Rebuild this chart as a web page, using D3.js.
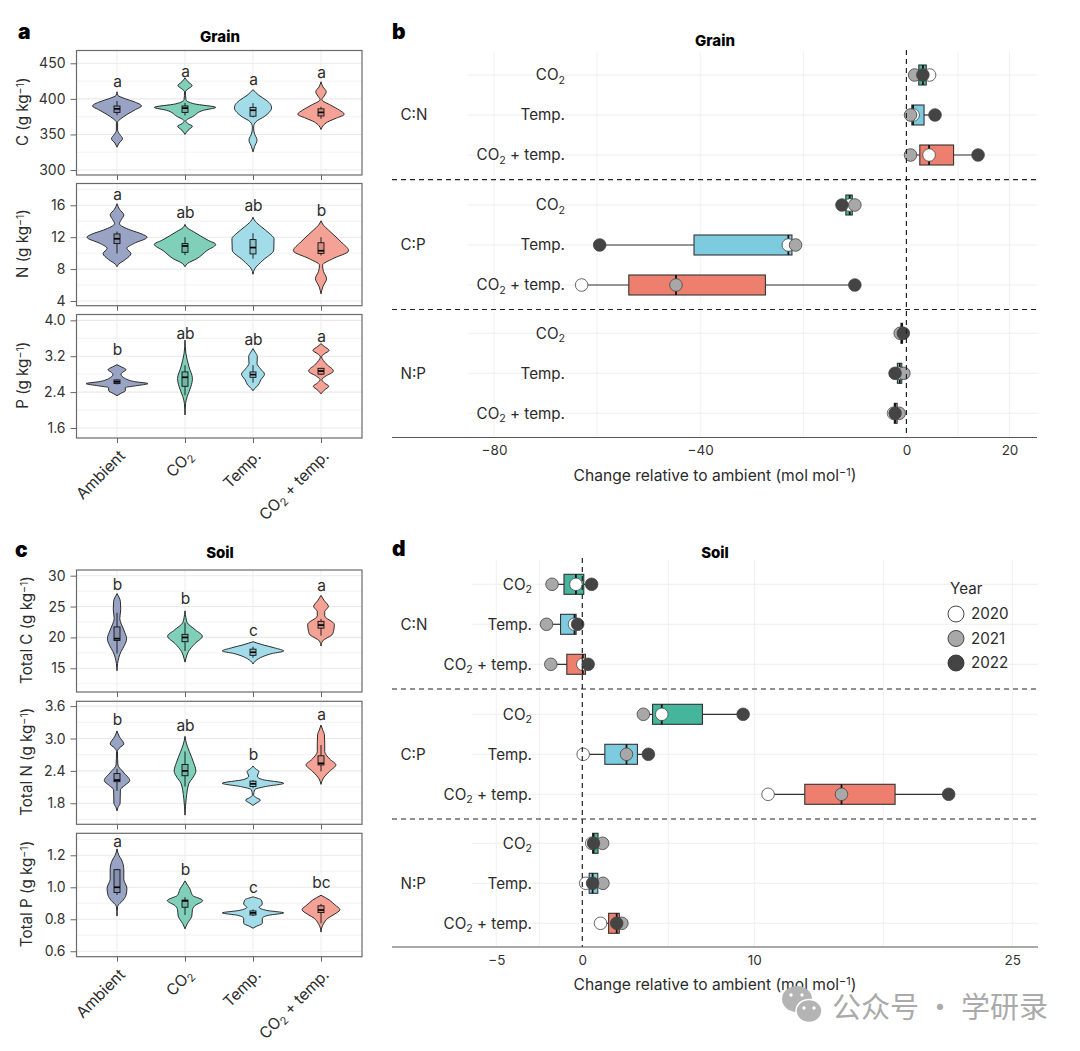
<!DOCTYPE html>
<html>
<head>
<meta charset="utf-8">
<script src="https://cdnjs.cloudflare.com/ajax/libs/d3/7.8.5/d3.min.js"></script>
<style>
  html, body { margin: 0; padding: 0; background: #fff; }
  text { font-family: Inter, "Noto Sans", sans-serif; fill: #2b2b2b; }
  .tick text { font-size: 14px; fill: #333; }
  .axis-label { font-size: 15.2px; }
  .x-label { font-size: 15.6px; }
  .panel-letter { font-size: 21px; font-weight: 900; fill: #000; }
  .panel-title { font-size: 15px; font-weight: 800; fill: #000; }
  .sig { font-size: 15.5px; }
  .row-label { font-size: 15.2px; }
</style>
</head>
<body>
<svg id="chart" width="1080" height="1051"></svg>
<script>
const treatments = ['Ambient', 'CO_2', 'Temp.', 'CO_2 + temp.'];
const rowLabels = ['CO_2', 'Temp.', 'CO_2 + temp.'];
const ratioLabels = ['C:N', 'C:P', 'N:P'];
const years = ['2020', '2021', '2022'];

// violin outlines, [value, relative density]
const grainC = [
  [[410,0],[405,.03],[400,.28],[396,.55],[390,.79],[385,.6],[378,.32],[372,.12],[367,.02],[356,.02],[350,.09],[344,.18],[338,.07],[332,0]],
  [[429.5,0],[424,.1],[418.7,.23],[414,.1],[410,.015],[399,.03],[393,.3],[388,.99],[384,.6],[375.6,.27],[369,.03],[365,.1],[361.6,.24],[356,.1],[350,0]],
  [[413,0],[405,.19],[398,.43],[392,.57],[387,.6],[381,.52],[375.6,.38],[367.7,.09],[360.6,.02],[352,.04],[342,.13],[333,.05],[325.5,0]],
  [[424,0],[417,.06],[410,.17],[404,.1],[399,.03],[391,.32],[384,.6],[378.4,.75],[373,.5],[367.7,.22],[362,.06],[357,0]]
];
const grainN = [
  [[16.2,0],[15.5,.08],[14.8,.22],[14.2,.14],[13.7,.08],[12.9,.43],[12.4,.8],[12,.97],[11.2,.54],[10.6,.32],[9.95,.45],[9.2,.27],[8.6,.05],[8.3,0]],
  [[13.6,0],[13.2,.06],[12.7,.27],[11.6,.75],[11.1,.99],[10.3,.7],[9.3,.38],[8.7,.08],[8.3,0]],
  [[14.5,0],[14,.07],[13.3,.27],[12.5,.52],[11.8,.68],[10.4,.67],[9.1,.32],[8,.05],[7.35,0]],
  [[14.05,0],[13.5,.08],[12.9,.24],[11.4,.65],[10.3,.89],[9.3,.38],[8.5,.05],[7.7,.08],[6.8,.18],[5.8,.06],[4.9,0]]
];
const grainP = [
  [[3.01,0],[2.96,.15],[2.9,.29],[2.85,.2],[2.8,.13],[2.7,.27],[2.63,.6],[2.59,1],[2.54,.6],[2.5,.27],[2.43,.27],[2.37,.12],[2.32,0]],
  [[3.56,0],[3.26,.03],[2.96,.13],[2.7,.24],[2.52,.19],[2.3,.07],[2.15,.02],[1.89,0]],
  [[3.37,0],[3.28,.08],[3.19,.14],[3.04,.13],[2.92,.24],[2.8,.37],[2.68,.26],[2.55,.16],[2.47,.04],[2.43,0]],
  [[3.48,0],[3.42,.1],[3.33,.26],[3.25,.1],[3.19,.02],[3.02,.18],[2.87,.4],[2.75,.14],[2.68,.03],[2.6,.12],[2.53,.25],[2.44,.1],[2.36,0]]
];
const soilC = [
  [[27.1,0],[25.8,.11],[24.5,.12],[23.1,.09],[21.2,.22],[19.8,.31],[18.7,.24],[17.7,.13],[15.8,.02],[14.6,0]],
  [[24.3,0],[23.2,.03],[22.4,.07],[21.2,.34],[20.2,.56],[19,.32],[17.7,.11],[16.6,.03],[16,0]],
  [[19.3,0],[18.8,.32],[18.3,.7],[17.8,.99],[17.4,.62],[16.9,.32],[16.2,.08],[15.7,0]],
  [[26.8,0],[26,.1],[25,.24],[24.2,.12],[23.5,.12],[22.1,.43],[20.6,.38],[19.4,.05],[18.6,0]]
];
const soilN = [
  [[3.14,0],[3.03,.08],[2.9,.22],[2.82,.07],[2.76,.015],[2.51,.03],[2.38,.2],[2.22,.41],[2.13,.25],[2.05,.11],[1.8,.1],[1.72,.03],[1.66,0]],
  [[3.04,0],[2.9,.05],[2.76,.14],[2.55,.28],[2.4,.35],[2.28,.26],[2.17,.13],[1.89,.04],[1.58,0]],
  [[2.49,0],[2.44,.08],[2.39,.19],[2.3,.14],[2.24,.3],[2.17,.99],[2.11,.4],[2.05,.05],[1.95,.02],[1.9,.12],[1.86,.24],[1.8,.1],[1.76,0]],
  [[3.25,0],[3.15,.06],[3.07,.11],[2.9,.12],[2.76,.12],[2.62,.28],[2.51,.48],[2.39,.27],[2.25,.06],[2.15,0]]
];
const soilP = [
  [[1.24,0],[1.2,.06],[1.17,.15],[1.11,.22],[1.05,.22],[.994,.32],[.95,.29],[.92,.2],[.88,.02],[.82,0]],
  [[1.04,0],[1.02,.06],[.99,.16],[.95,.24],[.917,.57],[.885,.32],[.86,.24],[.82,.22],[.775,.08],[.74,0]],
  [[.94,0],[.92,.27],[.895,.3],[.875,.2],[.855,.45],[.84,.99],[.825,.5],[.806,.3],[.775,.3],[.755,.1],[.744,0]],
  [[.95,0],[.92,.27],[.89,.45],[.86,.61],[.83,.42],[.806,.22],[.775,.09],[.745,.02],[.72,0]]
];

// violin inner boxes, [low, q1, median, q3, high]
const grainCBox = [[377,381,386,390,397],[376.6,381,387,390,394.5],[374,375.6,384,388,394],[372,376,381,386,389]];
const grainNBox = [[9.95,11.2,11.8,12.4,12.7],[9.75,10.1,10.9,11.2,12],[9.3,9.9,10.7,11.7,12.5],[9.7,9.95,10.3,11.3,12]];
const grainPBox = [[2.57,2.59,2.63,2.67,2.69],[2.33,2.53,2.73,2.85,3],[2.61,2.73,2.79,2.85,3],[2.78,2.8,2.87,2.93,2.94]];
const soilCBox = [[17.4,19.5,19.8,21.7,24],[17.8,19.3,20,20.5,22.4],[16.7,17.1,17.6,18.1,18.5],[20.3,21.5,22,22.6,23]];
const soilNBox = [[2.03,2.2,2.23,2.35,2.44],[2.11,2.31,2.4,2.52,2.76],[2.08,2.11,2.16,2.21,2.23],[2.39,2.51,2.54,2.68,2.88]];
const soilPBox = [[.952,.967,1,1.11,1.115],[.827,.875,.915,.92,.938],[.82,.827,.84,.852,.862],[.775,.842,.858,.884,.896]];

// significance letters and the value they sit at
const grainCSig = ['a','a','a','a'], grainCSigAt = [424,439,427,437];
const grainNSig = ['a','ab','ab','b'], grainNSigAt = [17.3,15.15,16,15.4];
const grainPSig = ['b','ab','ab','a'], grainPSigAt = [3.36,3.7,3.57,3.64];
const soilCSig = ['b','b','c','a'], soilCSigAt = [28.6,26.3,21.2,28.4];
const soilNSig = ['b','ab','b','a'], soilNSigAt = [3.36,3.24,2.7,3.44];
const soilPSig = ['a','b','c','bc'], soilPSigAt = [1.285,1.11,1,1.03];

// yearly change per treatment row, [2020, 2021, 2022]
const grainCN = [[4.5,1.6,3.2],[1.3,.8,5.55],[4.4,.8,13.9]];
const grainCP = [[-11,-10,-12.5],[-22.9,-21.5,-59.5],[-63,-44.7,-10]];
const grainNP = [[-.9,-1.2,-.6],[-1.3,-.5,-2.2],[-2.5,-1.4,-2.2]];
const soilCN = [[-.37,-1.76,.54],[-.45,-2.08,-.27],[.03,-1.83,.34]];
const soilCP = [[4.62,3.55,9.35],[.05,2.57,3.84],[10.8,15.07,21.3]];
const soilNP = [[.55,1.18,.65],[.2,1.2,.6],[1.06,2.3,2]];

const violinColors = ['#99a4c4', '#7fcfb9', '#a2dce9', '#f3a295'];
const boxColors = ['#45b59c', '#7ccbdf', '#ee7f6e'];
const yearColors = ['#ffffff', '#a8a8a8', '#444444'];

const svg = d3.select('#chart');

// turns CO_2 and ^-1 into sub/superscript tspans
function richText(sel, str) {
  sel.each(function() {
    const el = d3.select(this).text(null);
    let shift = 0;
    str.split(/(_2|\^-1)/).filter(s => s.length).forEach(part => {
      const t = el.append('tspan');
      if (part == '_2') {
        t.text('2').attr('font-size', '70%').attr('dy', '0.3em'); shift = -0.21;
      } else if (part == '^-1') {
        t.text('\u22121').attr('font-size', '70%').attr('dy', '-0.42em'); shift = 0.29;
      } else {
        t.text(part);
        if (shift) { t.attr('dy', shift + 'em'); shift = 0; }
      }
    });
  });
}

function drawViolinFacet(f) {
  const x = d3.scalePoint().domain(treatments).range([117, 321]);
  const y = d3.scaleLinear().domain(f.domain).range([f.bottom, f.top]);
  const w = d3.scaleLinear().domain([0, 1]).range([0, 31]);
  const g = svg.append('g');

  // grid, minor then major
  const step = f.ticks[1] - f.ticks[0];
  const minor = d3.range(-1, f.ticks.length).map(i => f.ticks[0] + (i + 0.5) * step)
    .filter(v => v > f.domain[0] && v < f.domain[1]);
  g.selectAll('.minor').data(minor).enter().append('line')
    .attr('x1', 77).attr('x2', 362).attr('y1', y).attr('y2', y)
    .attr('stroke', '#f2f2f2').attr('stroke-width', 1);
  g.selectAll('.major').data(f.ticks).enter().append('line')
    .attr('x1', 77).attr('x2', 362).attr('y1', y).attr('y2', y)
    .attr('stroke', '#e9e9e9').attr('stroke-width', 1.1);
  g.selectAll('.vert').data(treatments).enter().append('line')
    .attr('x1', d => x(d)).attr('x2', d => x(d)).attr('y1', f.top).attr('y2', f.bottom)
    .attr('stroke', '#ececec').attr('stroke-width', 1);

  // violins
  const area = d3.area()
    .y(d => y(d[0]))
    .x0(d => -w(d[1]))
    .x1(d => w(d[1]))
    .curve(d3.curveMonotoneY);

  treatments.forEach((t, i) => {
    const v = g.append('g').attr('transform', `translate(${x(t)},0)`);
    v.append('path').attr('d', area(f.violins[i]))
      .attr('fill', violinColors[i]).attr('stroke', '#1a1a1a').attr('stroke-width', 0.9);
    const b = f.boxes[i];
    v.append('line').attr('y1', y(b[0])).attr('y2', y(b[4]))
      .attr('stroke', '#111').attr('stroke-width', 0.9);
    v.append('rect').attr('x', -3).attr('width', 6)
      .attr('y', y(b[3])).attr('height', y(b[1]) - y(b[3]))
      .attr('fill', d3.color(violinColors[i]).darker(0.35)).attr('stroke', '#111').attr('stroke-width', 0.9);
    v.append('line').attr('x1', -3).attr('x2', 3).attr('y1', y(b[2])).attr('y2', y(b[2]))
      .attr('stroke', '#000').attr('stroke-width', 1.7);
    g.append('text').attr('class', 'sig').attr('text-anchor', 'middle')
      .attr('x', x(t) + 0.5).attr('y', y(f.sigAt[i])).attr('dy', '0.36em').text(f.sig[i]);
  });

  // frame and axes
  g.append('rect').attr('x', 76.5).attr('y', f.top).attr('width', 285.5).attr('height', f.bottom - f.top)
    .attr('fill', 'none').attr('stroke', '#6a6a6a').attr('stroke-width', 1.2);

  const yAxis = g.append('g').attr('transform', 'translate(76.5,0)')
    .call(d3.axisLeft(y).tickValues(f.ticks).tickSize(6).tickPadding(5).tickFormat(f.format));
  yAxis.select('.domain').remove();
  yAxis.selectAll('line').attr('stroke', '#666');

  const xAxis = g.append('g').attr('transform', `translate(0,${f.bottom})`)
    .call(d3.axisBottom(x).tickSize(5).tickFormat(''));
  xAxis.select('.domain').remove();
  xAxis.selectAll('line').attr('stroke', '#666');

  g.append('text').attr('class', 'axis-label').attr('text-anchor', 'middle')
    .attr('transform', `translate(${f.labelX},${(f.top + f.bottom) / 2 - 1}) rotate(-90)`)
    .call(richText, f.label);

  if (f.showCats) {
    treatments.forEach(t => {
      g.append('text').attr('class', 'x-label').attr('text-anchor', 'end')
        .attr('transform', `translate(${x(t) + 9},${f.bottom + 19}) rotate(-45)`)
        .call(richText, t);
    });
  }
}

function drawRatioPanel(p) {
  const x = d3.scaleLinear().domain(p.xDomain).range(p.xRange);
  const g = svg.append('g');

  g.selectAll('.vgrid').data(p.gridValues).enter().append('line')
    .attr('x1', x).attr('x2', x).attr('y1', p.top).attr('y2', p.axisY)
    .attr('stroke', '#f0f0f0').attr('stroke-width', 1);

  p.groups.forEach((vals, gi) => {
    const y = d3.scalePoint().domain(rowLabels).range([p.rowTop[gi], p.rowTop[gi] + 80]);
    g.selectAll(null).data(rowLabels).enter().append('line')
      .attr('x1', p.gridLeft).attr('x2', p.right).attr('y1', d => y(d)).attr('y2', d => y(d))
      .attr('stroke', '#eeeeee').attr('stroke-width', 1.1);

    g.append('text').attr('class', 'row-label').attr('x', 400.5).attr('y', y(rowLabels[1])).attr('dy', '0.36em')
      .text(ratioLabels[gi]);

    rowLabels.forEach((lab, ri) => {
      const cy = y(lab);
      g.append('text').attr('class', 'row-label').attr('text-anchor', 'end')
        .attr('x', p.labelRight).attr('y', cy).attr('dy', '0.36em').call(richText, lab);

      // box comes from the three yearly points, same as a boxplot of them
      const sorted = vals[ri].slice().sort(d3.ascending);
      const q1 = d3.quantile(sorted, 0.25), med = d3.quantile(sorted, 0.5), q3 = d3.quantile(sorted, 0.75);
      g.append('line').attr('x1', x(sorted[0])).attr('x2', x(sorted[2])).attr('y1', cy).attr('y2', cy)
        .attr('stroke', '#333').attr('stroke-width', 1.2);
      g.append('rect').attr('x', x(q1)).attr('width', x(q3) - x(q1)).attr('y', cy - 10).attr('height', 20)
        .attr('fill', boxColors[ri]).attr('stroke', '#333').attr('stroke-width', 1.1);
      g.append('line').attr('x1', x(med)).attr('x2', x(med)).attr('y1', cy - 10).attr('y2', cy + 10)
        .attr('stroke', '#111').attr('stroke-width', 1.8);
      years.forEach((yr, yi) => {
        g.append('circle').attr('cx', x(vals[ri][yi])).attr('cy', cy).attr('r', 6.3)
          .attr('fill', yearColors[yi]).attr('stroke', '#444').attr('stroke-width', 0.8);
      });
    });
  });

  p.dashY.forEach(v => {
    g.append('line').attr('x1', 392).attr('x2', p.right).attr('y1', v).attr('y2', v)
      .attr('stroke', '#222').attr('stroke-width', 1.2).attr('stroke-dasharray', '5,4');
  });
  g.append('line').attr('x1', x(0)).attr('x2', x(0)).attr('y1', p.top - 2).attr('y2', p.axisY)
    .attr('stroke', '#222').attr('stroke-width', 1.2).attr('stroke-dasharray', '5,4');

  g.append('line').attr('x1', 392).attr('x2', p.right).attr('y1', p.axisY).attr('y2', p.axisY)
    .attr('stroke', '#555').attr('stroke-width', 1.2);
  const xAxis = g.append('g').attr('transform', `translate(0,${p.axisY})`)
    .call(d3.axisBottom(x).tickValues(p.tickValues).tickSize(0).tickPadding(8));
  xAxis.select('.domain').remove();
  xAxis.selectAll('text').style('font-size', '13.5px');

  g.append('text').attr('class', 'x-label').attr('text-anchor', 'middle')
    .attr('x', p.labelX).attr('y', p.axisY + 43).call(richText, 'Change relative to ambient (mol mol^-1)');
}

const f0 = d3.format('d'), f1 = d3.format('.1f');

[
  {violins: grainC, boxes: grainCBox, sig: grainCSig, sigAt: grainCSigAt, domain: [293, 468], ticks: [300, 350, 400, 450],
   top: 50.5, bottom: 175, label: 'C (g kg^-1)', labelX: 28, format: f0},
  {violins: grainN, boxes: grainNBox, sig: grainNSig, sigAt: grainNSigAt, domain: [3.41, 18.73], ticks: [4, 8, 12, 16],
   top: 183.5, bottom: 305.7, label: 'N (g kg^-1)', labelX: 28, format: f0},
  {violins: grainP, boxes: grainPBox, sig: grainPSig, sigAt: grainPSigAt, domain: [1.377, 4.13], ticks: [1.6, 2.4, 3.2, 4],
   top: 314.5, bottom: 438, label: 'P (g kg^-1)', labelX: 28, format: f1, showCats: true},
  {violins: soilC, boxes: soilCBox, sig: soilCSig, sigAt: soilCSigAt, domain: [11.16, 30.92], ticks: [15, 20, 25, 30],
   top: 570, bottom: 692, label: 'Total C (g kg^-1)', labelX: 32, format: f0},
  {violins: soilN, boxes: soilNBox, sig: soilNSig, sigAt: soilNSigAt, domain: [1.41, 3.69], ticks: [1.8, 2.4, 3, 3.6],
   top: 701.3, bottom: 824.3, label: 'Total N (g kg^-1)', labelX: 32, format: f1},
  {violins: soilP, boxes: soilPBox, sig: soilPSig, sigAt: soilPSigAt, domain: [.566, 1.3375], ticks: [.6, .8, 1, 1.2],
   top: 833.3, bottom: 956.7, label: 'Total P (g kg^-1)', labelX: 32, format: f1, showCats: true}
].forEach(drawViolinFacet);

drawRatioPanel({
  groups: [grainCN, grainCP, grainNP], rowTop: [75, 205, 333.3], dashY: [179.7, 309.5],
  xDomain: [-80, 20], xRange: [494, 1009.5], tickValues: [-80, -40, 0, 20], gridValues: [-80, -60, -40, -20, 10, 20],
  top: 52, axisY: 437.5, gridLeft: 468, right: 1037, labelRight: 565, labelX: 715
});
drawRatioPanel({
  groups: [soilCN, soilCP, soilNP], rowTop: [584.3, 714.3, 843.3], dashY: [689, 819],
  xDomain: [-5, 25], xRange: [496.3, 1012.3], tickValues: [-5, 0, 10, 25], gridValues: [-5, -2.5, 5, 10, 17.5, 25],
  top: 560, axisY: 947, gridLeft: 472, right: 1038, labelRight: 532, labelX: 715
});

// legend
const legendY = d3.scalePoint().domain(years).range([614, 663]);
svg.append('text').attr('class', 'row-label').attr('x', 950).attr('y', 589).attr('dy', '0.36em').text('Year');
years.forEach((yr, i) => {
  svg.append('circle').attr('cx', 956).attr('cy', legendY(yr)).attr('r', 8)
    .attr('fill', yearColors[i]).attr('stroke', '#333').attr('stroke-width', 0.9);
  svg.append('text').attr('class', 'row-label').attr('x', 971).attr('y', legendY(yr)).attr('dy', '0.36em').text(yr);
});

// titles and panel letters
[['Grain', 220, 37], ['Grain', 715, 41], ['Soil', 220, 553], ['Soil', 715, 553]].forEach(t => {
  svg.append('text').attr('class', 'panel-title').attr('text-anchor', 'middle')
    .attr('x', t[1]).attr('y', t[2]).attr('dy', '0.36em').text(t[0]);
});
[['a', 18, 39], ['b', 392, 39], ['c', 15, 557], ['d', 392, 556]].forEach(t => {
  svg.append('text').attr('class', 'panel-letter').attr('x', t[1]).attr('y', t[2]).text(t[0]);
});

// watermark
const wm = svg.append('g');
wm.append('ellipse').attr('cx', 797).attr('cy', 999).attr('rx', 15).attr('ry', 13).attr('fill', '#b4b4b4');
wm.append('ellipse').attr('cx', 809).attr('cy', 1011).attr('rx', 13).attr('ry', 11.5).attr('fill', '#b4b4b4').attr('stroke', '#fff').attr('stroke-width', 1.5);
[[791, 995], [802, 995], [804, 1008], [814, 1008]].forEach(c => {
  wm.append('circle').attr('cx', c[0]).attr('cy', c[1]).attr('r', 1.7).attr('fill', '#fff');
});
wm.append('text').attr('x', 832).attr('y', 1008).attr('dy', '0.36em')
  .style('font-family', '"Noto Sans CJK SC"').style('font-size', '29px').style('fill', '#aaaaaa')
  .text('公众号 · 学研录');
</script>
</body>
</html>
